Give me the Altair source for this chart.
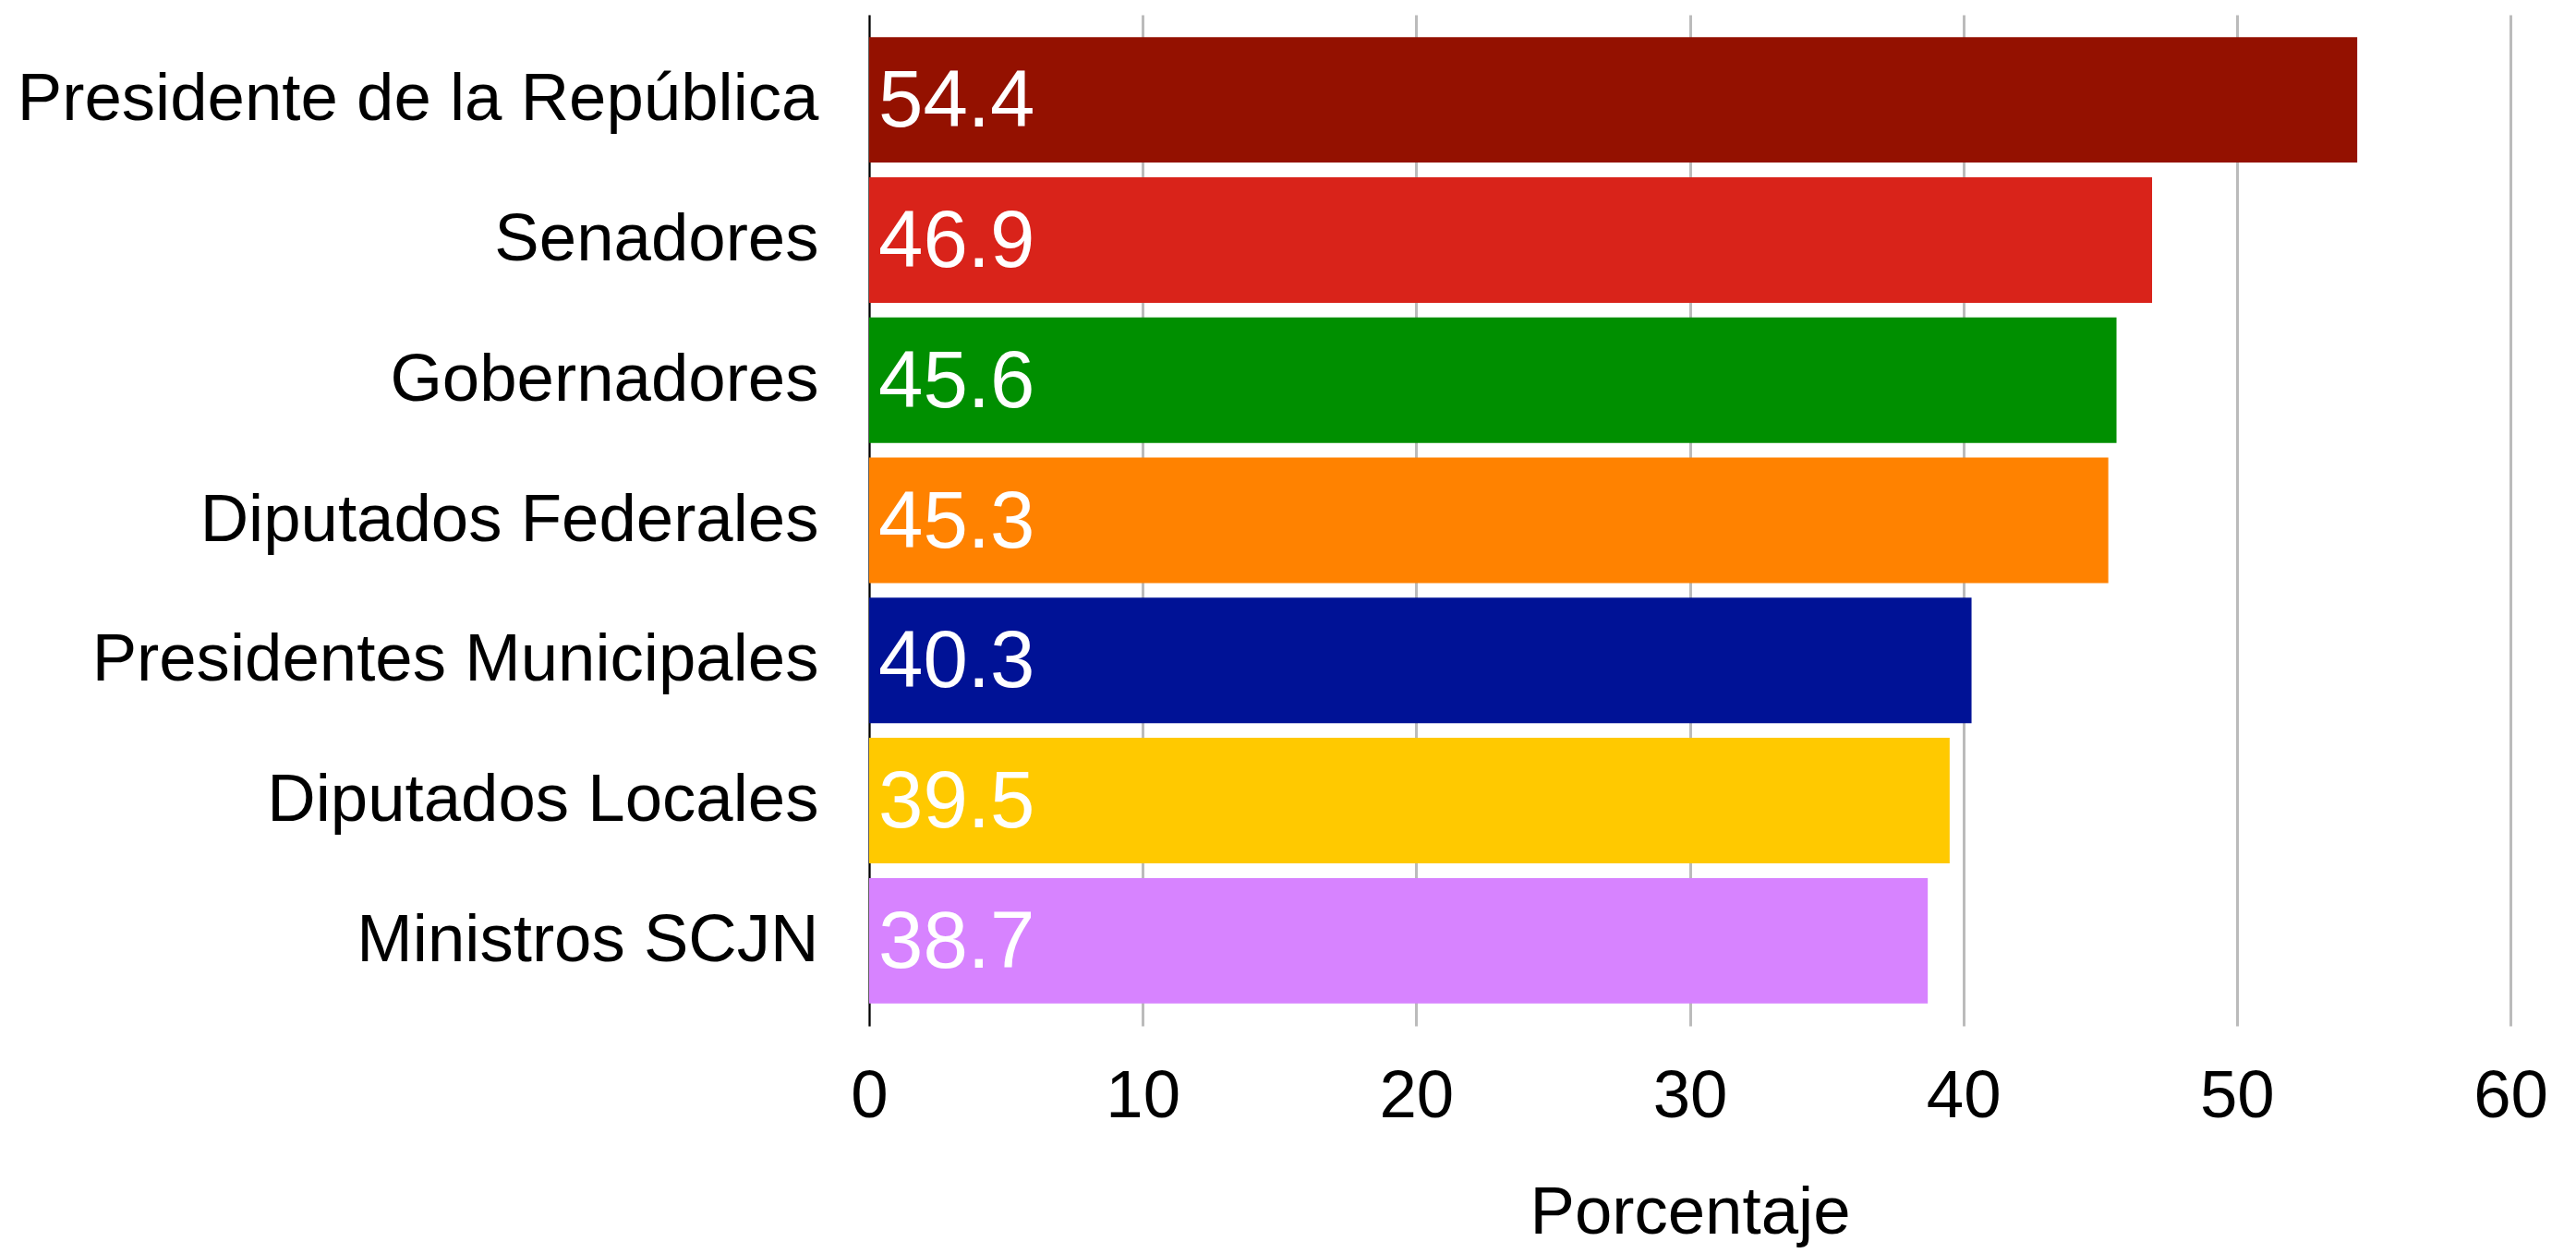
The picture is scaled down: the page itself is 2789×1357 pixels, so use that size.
import altair as alt
import pandas as pd

categories = [
    "Presidente de la República",
    "Senadores",
    "Gobernadores",
    "Diputados Federales",
    "Presidentes Municipales",
    "Diputados Locales",
    "Ministros SCJN",
]
values = [54.4, 46.9, 45.6, 45.3, 40.3, 39.5, 38.7]
colors = ["#941100", "#D9231A", "#008F00", "#FF8200", "#001296", "#FFC900", "#D783FF"]
x_ticks = [0, 10, 20, 30, 40, 50, 60]

df = pd.DataFrame({"cargo": categories, "pct": values})
FONT = "Liberation Sans"

y_enc = alt.Y(
    "cargo:N",
    sort=categories,
    scale=alt.Scale(paddingInner=0.105, paddingOuter=0.16),
    axis=alt.Axis(
        title=None,
        labelFont=FONT,
        labelFontSize=72.6,
        labelColor="#000000",
        labelPadding=55,
        ticks=False,
        domain=True,
        domainColor="#000000",
        domainWidth=2,
        grid=False,
        labelLimit=2000,
    ),
)

x_enc = alt.X(
    "pct:Q",
    scale=alt.Scale(domain=[0, 60], nice=False),
    axis=alt.Axis(
        title="Porcentaje",
        titleFont=FONT,
        titleFontSize=72.6,
        titleFontWeight="normal",
        titleColor="#000000",
        titlePadding=55,
        values=x_ticks,
        labelFont=FONT,
        labelFontSize=72.6,
        labelColor="#000000",
        labelPadding=41,
        labelFlush=False,
        ticks=False,
        domain=False,
        grid=True,
        gridColor="#BBBBBB",
        gridWidth=3,
    ),
)

bars = alt.Chart(df).mark_bar(cornerRadius=0).encode(
    y=y_enc,
    x=x_enc,
    color=alt.Color("cargo:N", scale=alt.Scale(domain=categories, range=colors), legend=None),
)

labels = alt.Chart(df).mark_text(
    align="left",
    baseline="middle",
    dx=10,
    dy=3,
    font=FONT,
    fontSize=87,
    color="#FFFFFF",
).encode(
    y=alt.Y("cargo:N", sort=categories),
    x=alt.datum(0),
    text=alt.Text("pct:Q", format=".1f"),
)

chart = (
    alt.layer(bars, labels)
    .properties(
        width=1777,
        height=1095,
        padding={"left": 10, "top": 8, "right": 5, "bottom": 5},
        background="#FFFFFF",
    )
    .configure_view(stroke=None, strokeWidth=0)
)

chart.save("out.html", embed_options={"renderer": "svg", "actions": False})
